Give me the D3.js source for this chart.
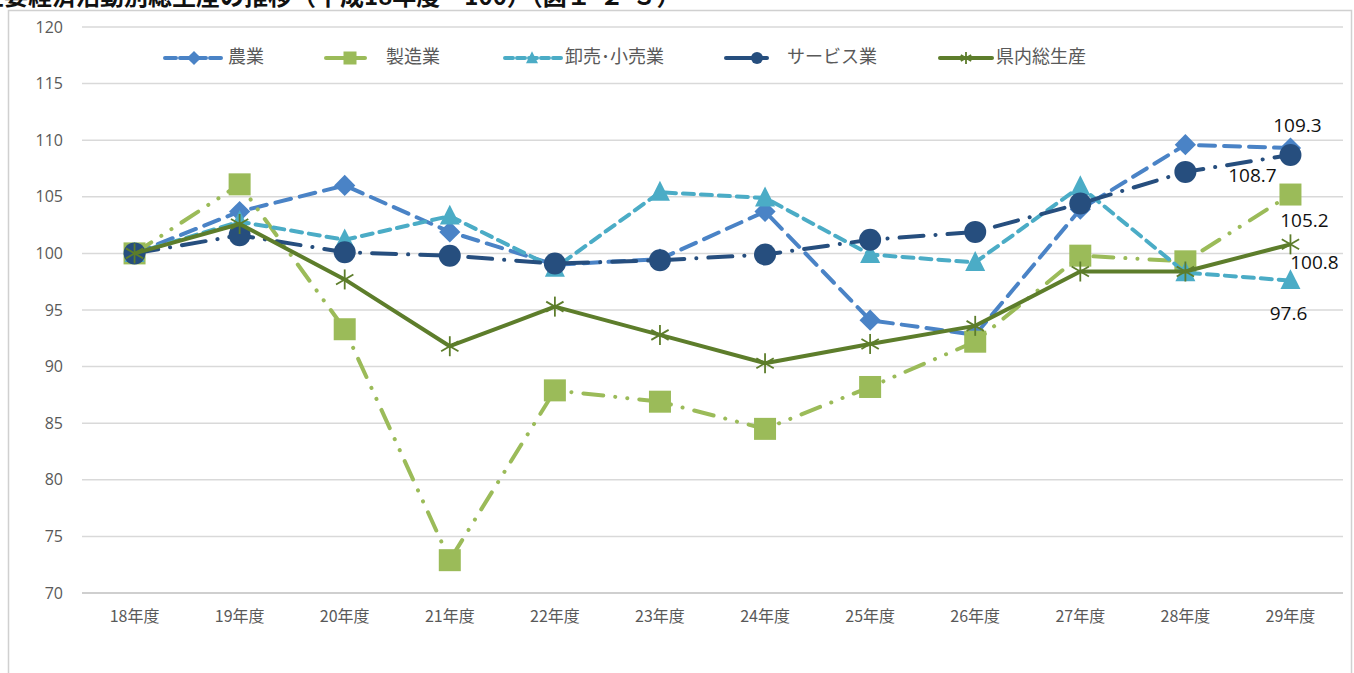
<!DOCTYPE html>
<html><head><meta charset="utf-8">
<script src="https://cdn.jsdelivr.net/npm/d3@7"></script>
<style>
html,body{margin:0;padding:0;background:#fff;overflow:hidden;}
svg{display:block;}
</style></head>
<body>
<svg id="c" width="1354" height="673"></svg>
<script>
const categories = ["18年度","19年度","20年度","21年度","22年度","23年度","24年度","25年度","26年度","27年度","28年度","29年度"];
const seriesNames = ["農業","製造業","卸売･小売業","サービス業","県内総生産"];
const agriculture = [100,103.7,106.0,101.9,99.0,99.5,103.7,94.1,92.8,103.9,109.6,109.3];
const manufacturing = [100,106.1,93.3,72.9,87.9,86.9,84.5,88.2,92.2,99.8,99.3,105.2];
const wholesaleRetail = [100,102.8,101.2,103.3,98.7,105.4,104.9,99.9,99.2,105.9,98.3,97.6];
const services = [100,101.6,100.1,99.8,99.1,99.4,99.9,101.2,101.9,104.4,107.2,108.7];
const prefecturalTotal = [100,102.6,97.7,91.8,95.3,92.8,90.3,92.0,93.6,98.4,98.4,100.8];
const yTicks = [70,75,80,85,90,95,100,105,110,115,120];
const titleText = "主要経済活動別総生産の推移（平成18年度＝100）（図１-２-３）";

const svg = d3.select("#c");
const plot = {left: 82, right: 1343, top: 27, bottom: 593};

// frame
svg.append("rect").attr("x",8.5).attr("y",10.5).attr("width",1343).attr("height",700)
  .attr("fill","#fff").attr("stroke","#d0d0d0").attr("stroke-width",1.5);

// title (cut off at top as in reference)
svg.append("text").attr("x",-20).attr("y",5).text(titleText)
  .attr("font-family","'Noto Sans CJK JP'").attr("font-weight","bold").attr("font-size",24).attr("fill","#111");

const x = d3.scaleBand().domain(categories).range([plot.left, plot.right]);
const y = d3.scaleLinear().domain([70,120]).range([plot.bottom, plot.top]);
const cx = d => x(d) + x.bandwidth()/2;

// grid
const grid = svg.append("g");
grid.selectAll("line").data(yTicks).join("line")
  .attr("x1",plot.left).attr("x2",plot.right)
  .attr("y1",d=>y(d)).attr("y2",d=>y(d))
  .attr("stroke",d=>d===70?"#cfcfcf":"#d9d9d9").attr("stroke-width",d=>d===70?2:1.5);

// y axis labels
const yAxis = d3.axisLeft(y).tickValues(yTicks).tickSize(0).tickPadding(0);
const ya = svg.append("g").attr("transform",`translate(63,0)`).call(yAxis);
ya.select(".domain").remove();
ya.selectAll("text").attr("font-family","'Open Sans'").attr("font-size",16).attr("fill","#595959");

// x axis labels
const xAxis = d3.axisBottom(x).tickSize(0).tickPadding(0);
const xa = svg.append("g").attr("transform",`translate(0,611)`).call(xAxis);
xa.select(".domain").remove();
xa.selectAll("text").attr("font-family","'Noto Sans CJK JP'").attr("font-size",16).attr("fill","#595959");

const allSeries = [agriculture, manufacturing, wholesaleRetail, services, prefecturalTotal];
const colors = ["#4a83c6","#9bbb59","#4bacc6","#264e7e","#5d7d2b"];
const dashes = ["16 9","20 12 0.1 12 0.1 12","11 7","24 12 0.1 12","none"];
const markers = ["diamond","square","triangle","circle","asterisk"];

function drawMarker(g, type, color, px, py, s){
  if(type==="diamond"){
    g.append("rect").attr("x",-s/2).attr("y",-s/2).attr("width",s).attr("height",s)
      .attr("transform",`translate(${px},${py}) rotate(45)`).attr("fill",color);
  } else if(type==="square"){
    g.append("rect").attr("x",px-s/2).attr("y",py-s/2).attr("width",s).attr("height",s).attr("fill",color);
  } else if(type==="triangle"){
    const h = s*0.95;
    g.append("path").attr("d",`M${px},${py-h*0.6}L${px+s/2},${py+h*0.45}L${px-s/2},${py+h*0.45}Z`).attr("fill",color);
  } else if(type==="circle"){
    g.append("circle").attr("cx",px).attr("cy",py).attr("r",s/2).attr("fill",color);
  } else if(type==="asterisk"){
    const r = s/2;
    const ag = g.append("g").attr("transform",`translate(${px},${py})`).attr("stroke",color).attr("stroke-width",1.8);
    [0,60,120].forEach(a=>{
      const t=(a+90)*Math.PI/180;
      ag.append("line").attr("x1",-r*Math.cos(t)).attr("y1",-r*Math.sin(t)).attr("x2",r*Math.cos(t)).attr("y2",r*Math.sin(t));
    });
  }
}
const markerSize = [15,22,20,22,20];

const line = d3.line().x((d,i)=>cx(categories[i])).y(d=>y(d));
allSeries.forEach((vals,k)=>{
  const g = svg.append("g");
  g.append("path").datum(vals).attr("d",line).attr("fill","none")
    .attr("stroke",colors[k]).attr("stroke-width",4)
    .attr("stroke-dasharray",dashes[k]==="none"?null:dashes[k])
    .attr("stroke-linecap", k===4?"butt":"round").attr("stroke-linejoin","round");
  vals.forEach((v,i)=>drawMarker(g, markers[k], colors[k], cx(categories[i]), y(v), markerSize[k]));
});

// data labels for last year
const last = categories.length-1;
const labelSeries = [0,3,1,4,2];
const labelOffsets = [[7,-21],[-38,22],[14,27],[24,20],[-2,34]];
labelSeries.forEach((sIdx,i)=>{
  const v = allSeries[sIdx][last];
  svg.append("text").attr("x",cx(categories[last])+labelOffsets[i][0]).attr("y",y(v)+labelOffsets[i][1])
    .attr("text-anchor","middle").attr("dominant-baseline","middle")
    .attr("font-family","'Open Sans'").attr("font-size",19).attr("fill","#111").text(v.toFixed(1));
});

// legend
const legLineStart = [165,326,505,726,940];
const legLineEnd = [221,365,561,767,992];
const legMarkX = [194,350,532,757,966];
const legText = [228,386,565,787,996];
const legY = 58;
const legDash = ["11 4","none","8 4","none","none"];
const legMarkSize = [10,13,12,12,12];
seriesNames.forEach((n,k)=>{
  const g = svg.append("g");
  g.append("line").attr("x1",legLineStart[k]).attr("x2",legLineEnd[k]).attr("y1",legY).attr("y2",legY)
    .attr("stroke",colors[k]).attr("stroke-width",4)
    .attr("stroke-dasharray",legDash[k]==="none"?null:legDash[k]).attr("stroke-linecap","round");
  drawMarker(g, markers[k], colors[k], legMarkX[k], legY, legMarkSize[k]);
  g.append("text").attr("x",legText[k]).attr("y",legY).attr("dominant-baseline","middle")
    .attr("font-family","'Noto Sans CJK JP'").attr("font-size",18).attr("fill","#595959").text(n);
});
</script>
</body></html>
